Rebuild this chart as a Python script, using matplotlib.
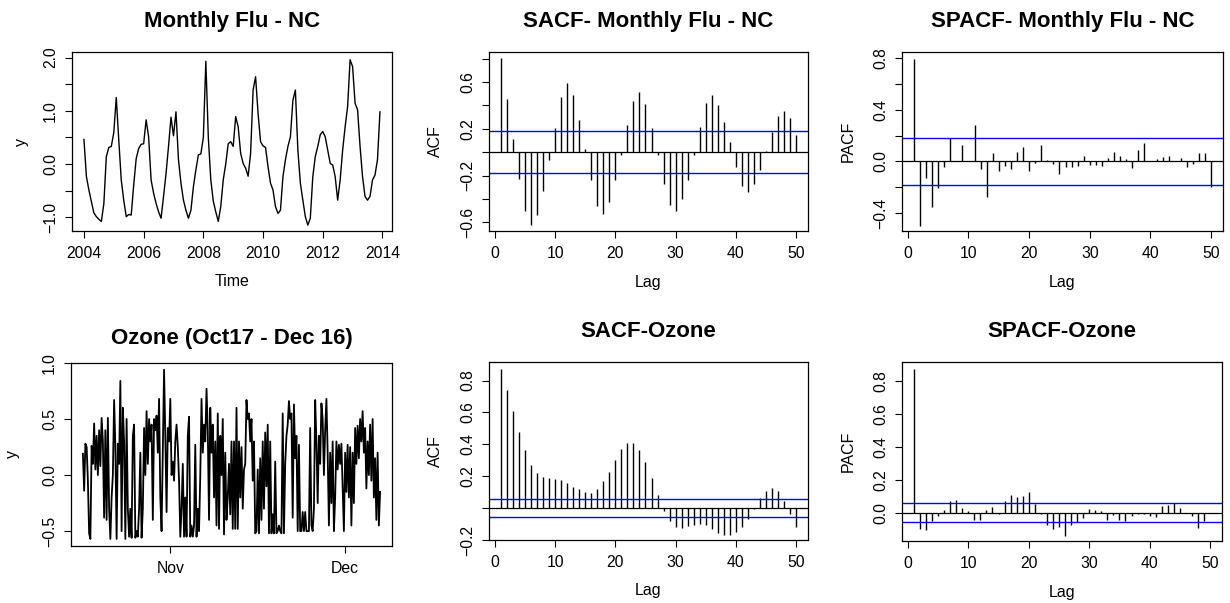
import matplotlib
matplotlib.use("Agg")
import matplotlib.pyplot as plt
import numpy as np

plt.rcParams['font.family'] = ['Liberation Sans', 'DejaVu Sans']

# monthly flu series, Jan 2004 .. Dec 2013
flu = [0.46, -0.24, -0.49, -0.71, -0.92, -0.99, -1.04, -1.08, -0.75, 0.14, 0.31, 0.33,
       0.59, 1.25, 0.45, -0.30, -0.68, -0.99, -0.95, -0.96, -0.40, 0.10, 0.29, 0.37,
       0.38, 0.83, 0.51, -0.30, -0.55, -0.74, -0.90, -1.02, -0.61, -0.18, 0.33, 0.88,
       0.53, 0.98, 0.08, -0.36, -0.68, -0.87, -1.02, -0.87, -0.43, -0.11, 0.17, 0.19,
       0.50, 1.93, 0.50, -0.30, -0.70, -0.90, -1.08, -0.80, -0.30, 0.00, 0.38, 0.42,
       0.33, 0.89, 0.70, 0.20, 0.01, -0.08, -0.23, 0.20, 1.39, 1.64, 0.95, 0.42,
       0.34, 0.31, -0.05, -0.36, -0.49, -0.80, -0.93, -0.87, -0.24, 0.08, 0.33, 0.51,
       1.20, 1.39, 0.26, -0.36, -0.68, -0.99, -1.15, -1.02, -0.24, 0.14, 0.33, 0.55,
       0.61, 0.51, 0.26, 0.01, -0.02, -0.24, -0.68, -0.30, 0.26, 0.70, 1.08, 1.96,
       1.83, 1.14, 1.02, 0.33, -0.24, -0.61, -0.68, -0.61, -0.30, -0.21, 0.08, 0.98]
flu_start = 2004.0
flu_freq = 12

# ozone series, Oct 17 .. early Dec
ozone = [0.19, -0.14, 0.28, 0.25, -0.05, -0.52, -0.57, 0.26, 0.10, 0.46, 0.05, 0.35, 0.00, 0.40, 0.08, 0.51, 0.30,
         -0.38, 0.40, -0.40, 0.51, -0.30, -0.57, -0.20, 0.00, 0.67, 0.26, -0.57, 0.28, 0.10, 0.84,
         -0.50, 0.60, 0.30, -0.57, 0.50, -0.30, -0.55, -0.30, -0.56, 0.35, 0.45, -0.56, -0.50, -0.55, -0.30, 0.20,
         -0.56, -0.30, 0.42, 0.00, 0.57, 0.10, 0.50, 0.30, 0.45, -0.40, 0.50, 0.40, 0.53,
         0.20, 0.68, -0.20, -0.50, 0.20, 0.94, 0.35, -0.33, 0.42, 0.30, 0.68, 0.00, 0.12, -0.05,
         0.30, 0.45, 0.25, -0.05, -0.55, -0.30, 0.10, -0.55, -0.20, -0.55, 0.35, 0.52, -0.55, -0.45,
         -0.55, -0.45, 0.27, -0.55, -0.30, -0.50, 0.00, 0.68, 0.20, 0.45, 0.30, 0.77,
         0.40, -0.40, 0.60, 0.20, 0.45, -0.20, 0.30, -0.45, 0.55, -0.48, 0.35, 0.00, 0.50, -0.53,
         0.20, -0.40, -0.20, 0.10, -0.35, 0.30, -0.48,
         0.30, -0.48, 0.60, -0.48, 0.30, -0.20, 0.25, -0.30, 0.05, 0.10,
         0.67, 0.50, 0.55, 0.30, 0.50, -0.05, 0.30, -0.52, -0.50, 0.05, -0.52, 0.15,
         -0.40, 0.30, -0.30, 0.38, -0.10, 0.45, -0.52, 0.30, -0.52, -0.35, -0.52,
         0.12, -0.52, -0.50, -0.45, -0.50, -0.52, 0.55, -0.52, 0.10, 0.35, 0.45, 0.66,
         0.50, 0.55, -0.38, 0.63, 0.15, 0.35, -0.50, 0.27, -0.50, -0.50, -0.33, -0.50, -0.33,
         -0.50, -0.50, -0.50, 0.42, -0.45, -0.50, -0.30, 0.67, 0.30, -0.25, 0.35,
         0.10, 0.64, 0.50, 0.00, 0.40, 0.68, 0.20, -0.45, 0.20, -0.25, 0.30, -0.50, -0.20,
         0.30, 0.05, 0.27, 0.10, 0.28, -0.10, -0.50, 0.20, -0.15, 0.27, -0.20, 0.25,
         -0.45, 0.20, -0.25, 0.42, 0.10, 0.44, 0.15, 0.50, 0.30, 0.57, 0.20, 0.42,
         -0.12, 0.30, 0.00, 0.45, -0.05, 0.50, -0.20, 0.15, -0.40, 0.20, -0.45, -0.15]
ozone_days = 51.0          # span of the series in days from Oct 17
month_ticks = [15, 45]     # Nov 1, Dec 1 in days from Oct 17
month_labels = ["Nov", "Dec"]

lags = np.arange(1, 51)
flu_acf = [0.806, 0.457, 0.111, -0.231, -0.503, -0.626, -0.537, -0.331, -0.063, 0.211,
           0.469, 0.594, 0.486, 0.274, 0.031, -0.234, -0.457, -0.526, -0.423, -0.237,
           -0.020, 0.229, 0.440, 0.514, 0.409, 0.211, -0.026, -0.269, -0.451, -0.500,
           -0.397, -0.234, -0.026, 0.217, 0.423, 0.491, 0.406, 0.257, 0.086, -0.123,
           -0.291, -0.340, -0.269, -0.151, 0.006, 0.177, 0.309, 0.349, 0.291, 0.151]
flu_pacf = [0.795, -0.495, -0.129, -0.348, -0.201, -0.046, 0.181, 0.005, 0.124, 0.003,
            0.284, -0.057, -0.271, 0.067, -0.072, -0.031, -0.057, 0.075, 0.114, -0.077,
            -0.013, 0.129, 0.008, -0.018, -0.093, -0.039, -0.041, -0.031, 0.044, -0.026,
            -0.028, -0.034, 0.026, 0.075, 0.039, 0.018, -0.054, 0.090, 0.142, 0.005,
            0.018, 0.034, 0.046, 0.003, 0.028, -0.039, -0.018, 0.067, 0.067, -0.196]
ozone_acf = [0.874, 0.742, 0.606, 0.477, 0.364, 0.272, 0.217, 0.194, 0.186, 0.184,
             0.176, 0.155, 0.134, 0.117, 0.100, 0.096, 0.121, 0.167, 0.228, 0.303,
             0.368, 0.410, 0.410, 0.364, 0.291, 0.188, 0.082, -0.017, -0.084, -0.119,
             -0.125, -0.113, -0.107, -0.102, -0.109, -0.132, -0.153, -0.169, -0.167, -0.151,
             -0.121, -0.071, -0.004, 0.065, 0.109, 0.125, 0.107, 0.046, -0.038, -0.119]
ozone_pacf = [0.874, -0.098, -0.106, -0.053, -0.024, 0.016, 0.071, 0.075, 0.026, 0.008,
              -0.047, -0.047, 0.018, 0.035, -0.006, 0.073, 0.104, 0.092, 0.098, 0.122,
              0.053, -0.006, -0.075, -0.100, -0.089, -0.140, -0.073, -0.057, -0.031, 0.024,
              0.016, 0.012, -0.045, -0.018, -0.043, -0.049, -0.020, -0.008, -0.008, -0.022,
              -0.026, 0.037, 0.047, 0.055, 0.026, -0.002, -0.022, -0.092, -0.051, 0.000]
flu_ci = 0.179
ozone_ci = 0.058

W, H = 1230, 603
fig = plt.figure(figsize=(W / 100, H / 100), dpi=100)


def make_axes(left, top, right, bottom):
    ax = fig.add_axes([left / W, (H - bottom) / H, (right - left) / W, (bottom - top) / H])
    for s in ax.spines.values():
        s.set_linewidth(0.9)
    ax.tick_params(direction='out', length=5, width=0.8, labelsize=11.3, pad=5)
    ax.tick_params(axis='x', pad=6)
    return ax


def y_ticks(ax, ticks, shown):
    ax.set_yticks(ticks)
    ax.set_yticklabels([("%.1f" % t).replace('-', '\u2212') if t in shown else '' for t in ticks])
    for lab in ax.get_yticklabels():
        lab.set_rotation(90)
        lab.set_va('center')


def labels(ax, title, xlab, ylab, title_pad, ylab_off, height):
    ax.set_title(title, fontsize=16, fontweight='bold', pad=title_pad)
    ax.set_xlabel(xlab, fontsize=11.5, va='center')
    ax.xaxis.set_label_coords(0.5, -51 / height)
    ax.set_ylabel(ylab, fontsize=11.5, va='center')
    ax.yaxis.set_label_coords(-ylab_off / 320, 0.5)


def acf_panel(ax, vals, ci, ylim, ticks, shown, title, ylab, height):
    ax.vlines(lags, 0, vals, color='black', linewidth=1.0)
    ax.axhline(0, color='black', linewidth=0.9)
    ax.axhline(ci, color='#0000FF', linewidth=1.0)
    ax.axhline(-ci, color='#0000FF', linewidth=1.0)
    ax.set_xlim(-0.96, 51.96)
    ax.set_ylim(*ylim)
    ax.set_xticks([0, 10, 20, 30, 40, 50])
    y_ticks(ax, ticks, shown)
    labels(ax, title, "Lag", ylab, 18.0, 54, height)


# Monthly flu
ax1 = make_axes(72, 52, 392, 231)
t = flu_start + np.arange(len(flu)) / flu_freq
ax1.plot(t, flu, color='black', linewidth=1.0)
ax1.set_xlim(2003.6, 2014.32)
ax1.set_ylim(-1.26, 2.105)
ax1.set_xticks([2004, 2006, 2008, 2010, 2012, 2014])
y_ticks(ax1, [-1.0, -0.5, 0.0, 0.5, 1.0, 1.5, 2.0], [-1.0, 0.0, 1.0, 2.0])
labels(ax1, "Monthly Flu - NC", "Time", "y", 18.0, 51, 179)

ax2 = make_axes(489, 52, 808, 231)
acf_panel(ax2, flu_acf, flu_ci, (-0.674, 0.857),
          [-0.6, -0.4, -0.2, 0.0, 0.2, 0.4, 0.6, 0.8], [-0.6, -0.2, 0.2, 0.6],
          "SACF- Monthly Flu - NC", "ACF", 179)

ax3 = make_axes(902, 52, 1223, 231)
acf_panel(ax3, flu_pacf, flu_ci, (-0.537, 0.846),
          [-0.4, -0.2, 0.0, 0.2, 0.4, 0.6, 0.8], [-0.4, 0.0, 0.4, 0.8],
          "SPACF- Monthly Flu - NC", "PACF", 179)

# Ozone
ax4 = make_axes(71, 363, 392, 546)
d = np.linspace(0, ozone_days, len(ozone))
ax4.plot(d, ozone, color='black', linewidth=1.3)
ax4.set_xlim(-0.04 * ozone_days, 1.04 * ozone_days)
ax4.set_ylim(-0.633, 1.0)
ax4.set_xticks(month_ticks)
ax4.set_xticklabels(month_labels)
y_ticks(ax4, [-0.5, 0.0, 0.5, 1.0], [-0.5, 0.0, 0.5, 1.0])
labels(ax4, "Ozone (Oct17 - Dec 16)", "", "y", 14.0, 58, 183)

ax5 = make_axes(489, 362, 808, 540)
acf_panel(ax5, ozone_acf, ozone_ci, (-0.199, 0.916),
          [-0.2, 0.0, 0.2, 0.4, 0.6, 0.8], [-0.2, 0.2, 0.4, 0.6, 0.8],
          "SACF-Ozone", "ACF", 178)

ax6 = make_axes(902, 362, 1222, 541)
acf_panel(ax6, ozone_pacf, ozone_ci, (-0.173, 0.915),
          [0.0, 0.2, 0.4, 0.6, 0.8], [0.0, 0.2, 0.4, 0.6, 0.8],
          "SPACF-Ozone", "PACF", 179)

fig.savefig("out.png", dpi=100)
